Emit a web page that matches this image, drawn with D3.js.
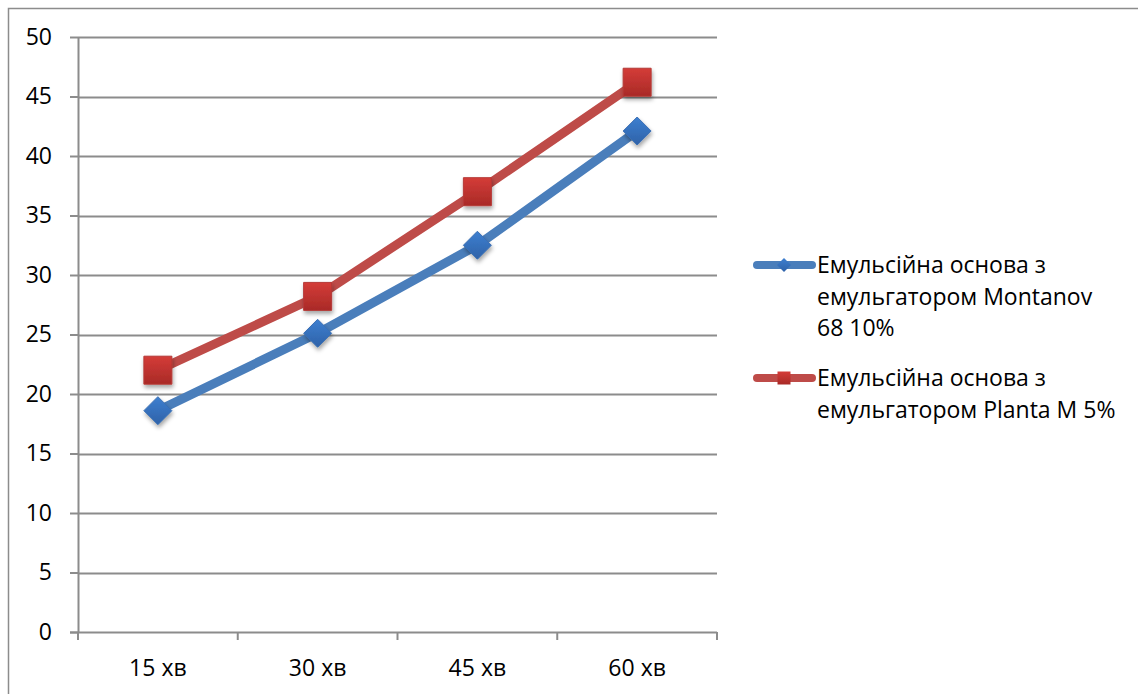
<!DOCTYPE html>
<html>
<head>
<meta charset="utf-8">
<script src="https://cdn.jsdelivr.net/npm/d3@7"></script>
<style>
  html, body { margin: 0; padding: 0; background: #fff; }
  svg { display: block; }
  text { font-family: "Open Sans", "Noto Sans", sans-serif; fill: #000; }
</style>
</head>
<body>
<svg id="chart" width="1138" height="694"></svg>
<script>
// Time points on the x axis
const categories = ["15 хв", "30 хв", "45 хв", "60 хв"];
// Measured values per emulsion base
const montanovValues = [18.6, 25.1, 32.5, 42.1];
const plantaValues = [22.0, 28.2, 37.0, 46.2];
// Series names shown in the legend (one array per line of wrapped text)
const montanovLabel = ["Емульсійна основа з", "емульгатором Montanov", "68 10%"];
const plantaLabel = ["Емульсійна основа з", "емульгатором Planta M 5%"];
// Value axis ticks
const yTicks = [0, 5, 10, 15, 20, 25, 30, 35, 40, 45, 50];

const svg = d3.select("#chart");
const W = 1138, H = 694;
const plot = { left: 78, right: 717, top: 37, bottom: 632 };
const gridColor = "#8c8c8c";
const fontSize = 23;

// Outer frame of the chart area
svg.append("rect")
  .attr("x", 8.5).attr("y", 8.5)
  .attr("width", W + 10).attr("height", H + 10)
  .attr("fill", "#fff").attr("stroke", "#8c8c8c").attr("stroke-width", 1.5);

const x = d3.scaleBand().domain(categories).range([plot.left, plot.right]).padding(0);
const y = d3.scaleLinear().domain([0, 50]).range([plot.bottom, plot.top]);

const defs = svg.append("defs");
const shadow = defs.append("filter").attr("id", "shadow")
  .attr("x", "-50%").attr("y", "-50%").attr("width", "200%").attr("height", "200%");
shadow.append("feDropShadow").attr("dx", 1).attr("dy", 3).attr("stdDeviation", 2)
  .attr("flood-color", "#000").attr("flood-opacity", 0.35);

function grad(id, top, bottom) {
  const g = defs.append("linearGradient").attr("id", id)
    .attr("x1", 0).attr("y1", 0).attr("x2", 0).attr("y2", 1);
  g.append("stop").attr("offset", "0%").attr("stop-color", top);
  g.append("stop").attr("offset", "100%").attr("stop-color", bottom);
}
grad("gBlue", "#3d7fd0", "#2f62a8");
grad("gRed", "#d43c38", "#a92a27");

// Horizontal gridlines
svg.append("g").selectAll("line").data(yTicks.filter(d => d > 0)).join("line")
  .attr("x1", plot.left).attr("x2", plot.right)
  .attr("y1", d => Math.round(y(d)) + 0.5).attr("y2", d => Math.round(y(d)) + 0.5)
  .attr("stroke", gridColor).attr("stroke-width", 2);

// Y axis
const yAxis = svg.append("g")
  .attr("transform", `translate(${plot.left},0)`)
  .call(d3.axisLeft(y).tickValues(yTicks).tickSize(8).tickPadding(18).tickSizeOuter(0));
yAxis.select(".domain").attr("stroke", gridColor).attr("stroke-width", 2);
yAxis.selectAll(".tick line").attr("stroke", gridColor).attr("stroke-width", 2);
yAxis.selectAll(".tick text").attr("font-size", fontSize).attr("fill", "#000")
  .attr("font-family", "'Open Sans', sans-serif");

// X axis with boundary ticks between categories
const xAxisG = svg.append("g").attr("transform", `translate(0,${plot.bottom})`);
xAxisG.append("line").attr("x1", plot.left - 8).attr("x2", plot.right)
  .attr("y1", 0.5).attr("y2", 0.5).attr("stroke", gridColor).attr("stroke-width", 2);
const bounds = categories.map(c => x(c)).concat([x(categories[categories.length - 1]) + x.bandwidth()]);
xAxisG.selectAll("line.b").data(bounds).join("line").attr("class", "b")
  .attr("x1", d => d).attr("x2", d => d).attr("y1", 0).attr("y2", 8)
  .attr("stroke", gridColor).attr("stroke-width", 2);
xAxisG.selectAll("text").data(categories).join("text")
  .attr("x", d => x(d) + x.bandwidth() / 2).attr("y", 44)
  .attr("text-anchor", "middle").attr("font-size", fontSize).text(d => d);

const cx = d => x(d) + x.bandwidth() / 2;
const line = d3.line().x(d => cx(d.c)).y(d => y(d.v));

const series = [
  { values: montanovValues, line: "#4a7ebb", fill: "url(#gBlue)", marker: "diamond", label: montanovLabel, ly: 265 },
  { values: plantaValues, line: "#be4b48", fill: "url(#gRed)", marker: "square", label: plantaLabel, ly: 378 }
];

const diamond = r => `M0,${-r}L${r},0L0,${r}L${-r},0Z`;
const square = s => `M${-s},${-s}H${s}V${s}H${-s}Z`;

series.forEach(s => {
  const pts = categories.map((c, i) => ({ c, v: s.values[i] }));
  svg.append("path").datum(pts).attr("d", line)
    .attr("fill", "none").attr("stroke", s.line).attr("stroke-width", 9)
    .attr("stroke-linejoin", "round");
  svg.append("g").selectAll("path").data(pts).join("path")
    .attr("transform", d => `translate(${cx(d.c)},${y(d.v)})`)
    .attr("d", s.marker === "diamond" ? diamond(14) : square(14))
    .attr("fill", s.fill)
    .attr("stroke", s.marker === "diamond" ? "#3a6fb3" : "#b53a37").attr("stroke-width", 1)
    .attr("filter", "url(#shadow)");
});

// Legend
series.forEach(s => {
  const g = svg.append("g");
  g.append("line").attr("x1", 757).attr("x2", 812).attr("y1", s.ly).attr("y2", s.ly)
    .attr("stroke", s.line).attr("stroke-width", 8).attr("stroke-linecap", "round");
  g.append("path").attr("transform", `translate(784,${s.ly})`)
    .attr("d", s.marker === "diamond" ? diamond(7) : square(6.5))
    .attr("fill", s.fill);
  s.label.forEach((t, i) => {
    g.append("text").attr("x", 817).attr("y", s.ly + i * 31.5)
      .attr("dy", "0.35em").attr("font-size", fontSize).text(t);
  });
});
</script>
</body>
</html>
